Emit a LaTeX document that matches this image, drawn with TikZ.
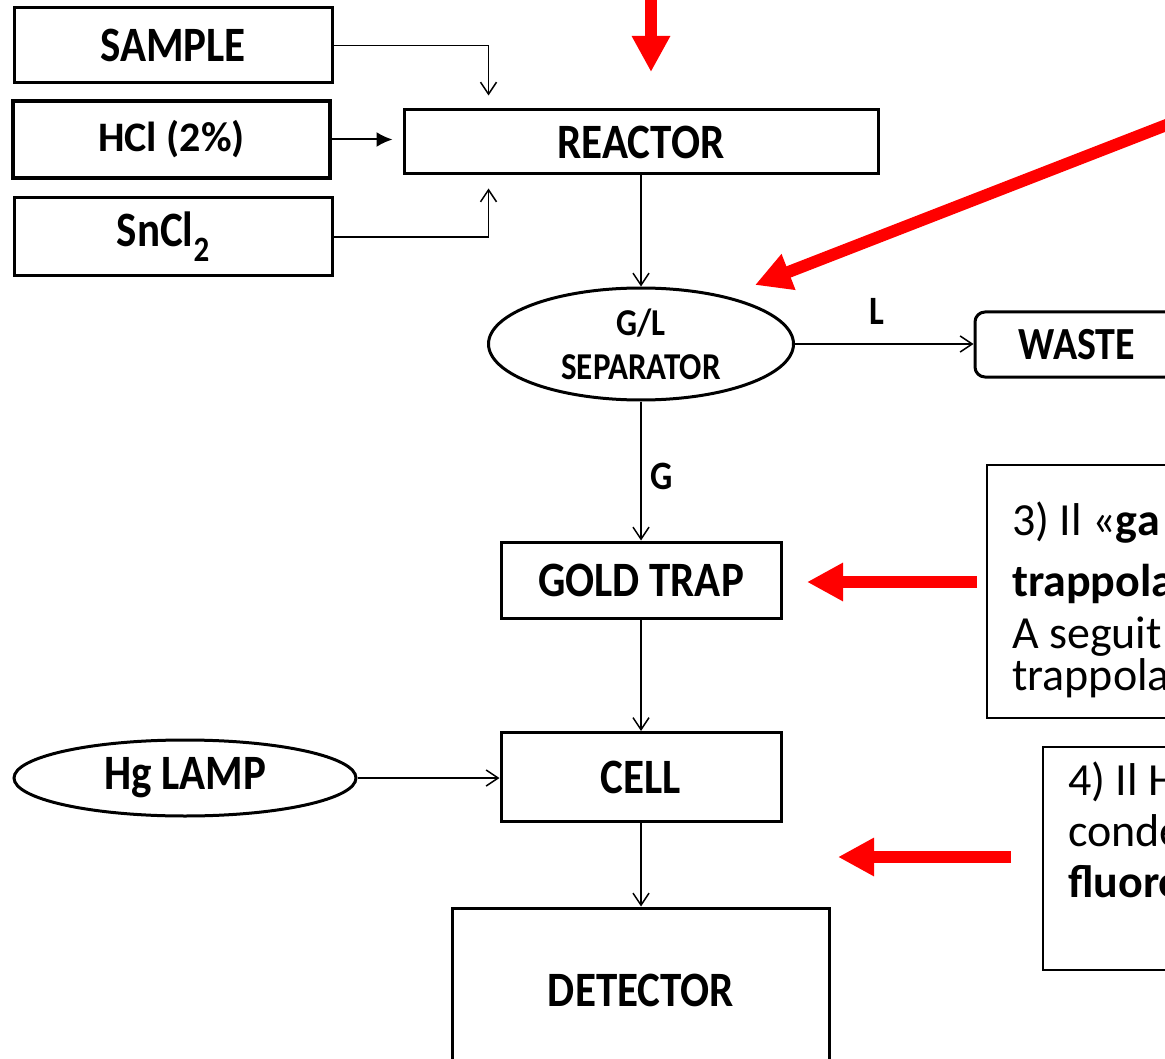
\documentclass[tikz,border=0pt]{standalone}
\usepackage{graphicx}
\usepackage{fontspec}
\setmainfont{Carlito}
\usetikzlibrary{arrows.meta,shapes.geometric,calc}

\newcommand\boxfont{\fontsize{43}{46}\selectfont\bfseries}
\newcommand\sepfont{\fontsize{33}{44}\selectfont\bfseries}
\newcommand\notefont{\fontsize{46}{50}\selectfont}
% block labels are set slightly taller than the font's natural shape
\newcommand\tall[1]{\scalebox{1}[1.15]{#1}}

\begin{document}
\begin{tikzpicture}[x=1pt,y=-1pt,
  block/.style={draw, line width=3pt, inner sep=0pt, font=\boxfont},
  oval/.style={ellipse, draw, line width=3pt, inner sep=0pt, font=\boxfont},
  conn/.style={line width=1.5pt, -{Straight Barb[length=12pt,width=16pt]}},
  pointer/.style={draw=red, line width=12pt, -{Triangle[length=36pt,width=36pt]}},
  flowlabel/.style={font=\fontsize{35}{36}\selectfont\bfseries, inner sep=0pt},
  notebox/.style={draw, line width=2pt, inner sep=0pt},
  noteline/.style={anchor=base west, inner sep=0pt, font=\notefont}
]
\path[use as bounding box] (0,0) rectangle (1165,1059);
\clip (0,0) rectangle (1165,1059);

% input boxes
\node[block, minimum width=318, minimum height=75] (sample) at (173,45.5) {\tall{SAMPLE}};
\node[block, line width=4pt, minimum width=317, minimum height=77,
      font=\fontsize{42}{44}\selectfont\bfseries] (hcl) at (171.5,139.5) {HCl (2\%)};
\node[block, minimum width=318, minimum height=78] (sncl) at (173,237)
  {\hspace*{-20pt}\tall{SnCl\raisebox{-0.3em}{\fontsize{31}{32}\selectfont 2}}};

% main chain
\node[block, minimum width=474, minimum height=64] (reactor) at (641,142) {\tall{REACTOR}};
\node[oval, minimum width=305, minimum height=112, font=\sepfont, align=center]
  (sep) at (641,344) {\tall{G/L}\\\tall{SEPARATOR}};
\node[block, rounded corners=10pt, minimum width=204, minimum height=65,
      font=\fontsize{40}{44}\selectfont\bfseries] (waste) at (1077,344.5) {\tall{WASTE}};
\node[block, minimum width=280, minimum height=76] (trap) at (641,580) {\tall{GOLD TRAP}};
\node[block, minimum width=280, minimum height=89] (cell) at (641,777) {\tall{CELL}};
\node[oval, minimum width=342, minimum height=76] (lamp) at (185,778) {\tall{Hg LAMP}};
\node[block, minimum width=377, minimum height=164] (det) at (641,990) {\tall{DETECTOR}};

% connectors
\draw[conn, shorten >=13pt] (sample.east) -| ($(reactor.north west)+(86,0)$);
\draw[conn, shorten >=13pt] (sncl.east) -| ($(reactor.south west)+(86,0)$);
\draw[line width=2pt, -{Latex[length=16pt,width=15pt]}, shorten >=10pt]
  (hcl.east) -- (hcl.east -| reactor.west);
\draw[conn] (reactor.south) -- (sep.north);
\draw[conn] (sep.east) -- (sep.east -| waste.west);
\draw[conn] (sep.south) -- (trap.north);
\draw[conn] (trap.south) -- (cell.north);
\draw[conn] (lamp.east) -- (lamp.east -| cell.west);
\draw[conn] (cell.south) -- (det.north);

\node[flowlabel] (lL) at (877,311) {\tall{L}};
\node[flowlabel] (lG) at (662,476) {\tall{G}};

% note frames and their text
\node[notebox, minimum width=220, minimum height=253] (note3) at (1097,591.5) {};
\node[noteline] (n3a) at (1012,535) {3) Il «\textbf{ga}};
\node[noteline] (n3b) at (1012,596) {\textbf{trappola}};
\node[noteline] (n3c) at (1012,648) {A seguit};
\node[noteline] (n3d) at (1012,690) {trappola};

\node[notebox, minimum width=160, minimum height=223] (note4) at (1123,858.5) {};
\node[noteline] (n4a) at (1068,795) {4) Il H};
\node[noteline] (n4b) at (1068,846) {conde};
\node[noteline] (n4c) at (1068,897) {\textbf{fluore}};

% red pointers
\coordinate (p1s) at (651,-10);  \coordinate (p1e) at (651,72);
\coordinate (p2s) at (1205,110); \coordinate (p2e) at (755,285);
\coordinate (p3e) at (807,582);
\coordinate (p4e) at (838,857);
\draw[pointer] (p1s) -- (p1e);
\draw[pointer] (p2s) -- (p2e);
\draw[pointer] ($(note3.west |- p3e)+(-9,0)$) -- (p3e);
\draw[pointer] ($(note4.west |- p4e)+(-31,0)$) -- (p4e);
\end{tikzpicture}
\end{document}
